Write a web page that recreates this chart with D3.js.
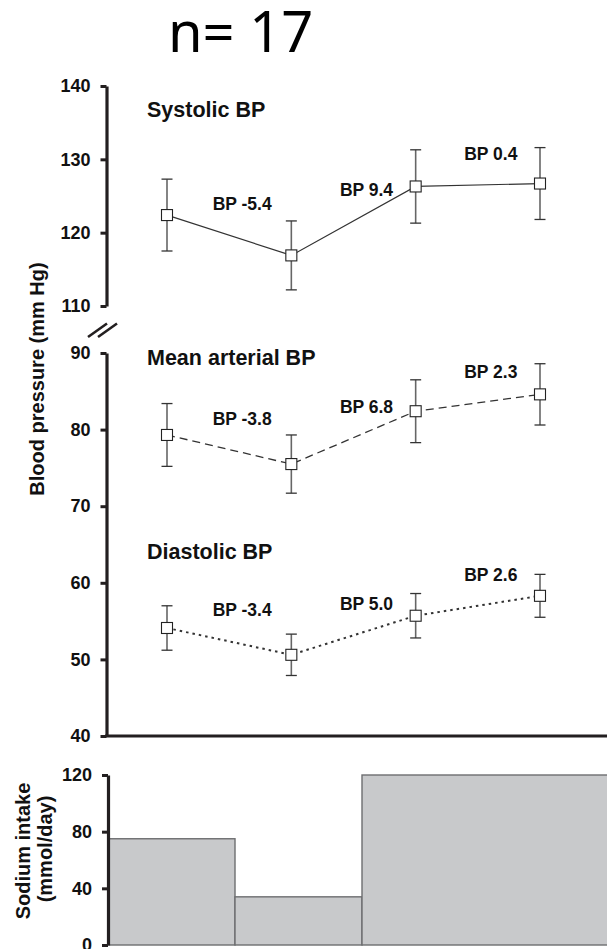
<!DOCTYPE html>
<html>
<head>
<meta charset="utf-8">
<script src="https://cdn.jsdelivr.net/npm/d3@7"></script>
<style>
  body { margin: 0; background: #fff; }
  svg text { font-family: "Liberation Sans", Arial, sans-serif; font-weight: bold; fill: #111; }
</style>
</head>
<body>
<svg width="607" height="949"></svg>
<script>
var svg = d3.select("svg"),
    width = +svg.attr("width"),
    height = +svg.attr("height");

// time points (x positions of the four measurements)
var periods = ["P1", "P2", "P3", "P4"];

// blood pressure means and error
var systolic      = [122.4, 116.9, 126.3, 126.7];
var systolicErr   = [4.9, 4.7, 5.0, 4.9];
var meanArterial  = [79.3, 75.5, 82.4, 84.6];
var meanArtErr    = [4.1, 3.8, 4.1, 4.0];
var diastolic     = [54.1, 50.6, 55.7, 58.3];
var diastolicErr  = [2.9, 2.7, 2.9, 2.8];

// change labels between consecutive points
var systolicLabels  = ["BP -5.4", "BP 9.4", "BP 0.4"];
var meanArtLabels   = ["BP -3.8", "BP 6.8", "BP 2.3"];
var diastolicLabels = ["BP -3.4", "BP 5.0", "BP 2.6"];

// sodium intake per diet phase (start period, end period, mmol/day)
var sodiumStart = [0, 1, 2];
var sodiumEnd   = [1, 2, 4];
var sodiumValue = [75, 34, 120];

var topTicks = [110, 120, 130, 140];
var bottomTicks = [40, 50, 60, 70, 80, 90];
var sodiumTicks = [0, 40, 80, 120];

var axisX = 106.5;

var x = d3.scalePoint().domain(periods).range([167, 540]);
var yTop = d3.scaleLinear().domain([110, 140]).range([306, 86]);
var yBot = d3.scaleLinear().domain([40, 90]).range([736, 353]);
var xSod = d3.scaleLinear().domain([0, 4]).range([108, 616]);
var ySod = d3.scaleLinear().domain([0, 120]).range([945, 775]);

// title
svg.append("text")
    .attr("x", 168)
    .attr("y", 52)
    .style("font-family", "'Noto Sans', 'Open Sans', sans-serif")
    .style("font-weight", "normal")
    .style("font-size", "56px")
    .style("fill", "#000")
    .text("n= 17");

function styleAxis(g) {
  g.select(".domain").attr("stroke", "#231f20").attr("stroke-width", 3.2);
  g.selectAll(".tick line").attr("stroke", "#231f20").attr("stroke-width", 3);
  g.selectAll(".tick text")
      .style("font-family", "'Liberation Sans', Arial, sans-serif")
      .style("font-weight", "bold")
      .style("font-size", "18px")
      .attr("fill", "#111");
}

svg.append("g")
    .attr("transform", "translate(" + axisX + ",0)")
    .call(d3.axisLeft(yTop).tickValues(topTicks).tickSize(6).tickSizeOuter(0).tickPadding(10))
    .call(styleAxis);

svg.append("g")
    .attr("transform", "translate(" + axisX + ",0)")
    .call(d3.axisLeft(yBot).tickValues(bottomTicks).tickSize(6).tickSizeOuter(0).tickPadding(10))
    .call(styleAxis);

// horizontal baseline of the BP panel
svg.append("line")
    .attr("x1", axisX - 1.5).attr("x2", width)
    .attr("y1", yBot(40)).attr("y2", yBot(40))
    .attr("stroke", "#231f20").attr("stroke-width", 3.2);

// axis break marks
[0, 10].forEach(function(dx) {
  svg.append("line")
      .attr("x1", 88 + dx).attr("y1", 337)
      .attr("x2", 107 + dx).attr("y2", 323.5)
      .attr("stroke", "#231f20").attr("stroke-width", 2.6);
});

// y label
svg.append("text")
    .attr("transform", "translate(44,379) rotate(-90)")
    .attr("text-anchor", "middle")
    .style("font-size", "20px")
    .text("Blood pressure (mm Hg)");

// panel titles
svg.append("text").attr("x", 147).attr("y", 117).style("font-size", "21.5px").text("Systolic BP");
svg.append("text").attr("x", 147).attr("y", 365).style("font-size", "21.5px").text("Mean arterial BP");
svg.append("text").attr("x", 147).attr("y", 559).style("font-size", "21.5px").text("Diastolic BP");

function drawSeries(values, errs, labels, y, dash, lineWidth) {
  var pts = values.map(function(v, i) { return { p: periods[i], v: v, e: errs[i] }; });
  var g = svg.append("g");

  var line = d3.line()
      .x(function(d) { return x(d.p); })
      .y(function(d) { return y(d.v); });

  g.append("path")
      .datum(pts)
      .attr("d", line)
      .attr("fill", "none")
      .attr("stroke", "#333")
      .attr("stroke-width", lineWidth)
      .attr("stroke-dasharray", dash);

  var eb = g.selectAll(".err").data(pts).enter().append("g").attr("class", "err");
  eb.append("line")
      .attr("x1", function(d) { return x(d.p); })
      .attr("x2", function(d) { return x(d.p); })
      .attr("y1", function(d) { return y(d.v + d.e); })
      .attr("y2", function(d) { return y(d.v - d.e); })
      .attr("stroke", "#666").attr("stroke-width", 1.6);
  [1, -1].forEach(function(s) {
    eb.append("line")
        .attr("x1", function(d) { return x(d.p) - 5.5; })
        .attr("x2", function(d) { return x(d.p) + 5.5; })
        .attr("y1", function(d) { return y(d.v + s * d.e); })
        .attr("y2", function(d) { return y(d.v + s * d.e); })
        .attr("stroke", "#333").attr("stroke-width", 1.3);
  });

  g.selectAll("rect").data(pts).enter().append("rect")
      .attr("x", function(d) { return x(d.p) - 5.5; })
      .attr("y", function(d) { return y(d.v) - 5.5; })
      .attr("width", 11).attr("height", 11)
      .attr("fill", "#fff")
      .attr("stroke", "#222").attr("stroke-width", 1.1);

  g.selectAll(".lbl").data(labels).enter().append("text")
      .attr("class", "lbl")
      .attr("text-anchor", "middle")
      .attr("x", function(d, i) { return (x(periods[i]) + x(periods[i + 1])) / 2 + 13; })
      .attr("y", function(d, i) { return (y(values[i]) + y(values[i + 1])) / 2 - 25; })
      .style("font-size", "17.5px")
      .text(function(d) { return d; });
}

drawSeries(systolic, systolicErr, systolicLabels, yTop, null, 1.2);
drawSeries(meanArterial, meanArtErr, meanArtLabels, yBot, "8,5", 1.3);
drawSeries(diastolic, diastolicErr, diastolicLabels, yBot, "2.5,4", 2);

// sodium intake panel
var sod = sodiumValue.map(function(v, i) { return { s: sodiumStart[i], e: sodiumEnd[i], v: v }; });
svg.append("g").selectAll("rect").data(sod).enter().append("rect")
    .attr("x", function(d) { return xSod(d.s); })
    .attr("y", function(d) { return ySod(d.v); })
    .attr("width", function(d) { return xSod(d.e) - xSod(d.s); })
    .attr("height", function(d) { return ySod(0) - ySod(d.v); })
    .attr("fill", "#c8c9cb")
    .attr("stroke", "#6d6e70")
    .attr("stroke-width", 1.4);

svg.append("g")
    .attr("transform", "translate(108,0)")
    .call(d3.axisLeft(ySod).tickValues(sodiumTicks).tickSize(6).tickSizeOuter(0).tickPadding(10))
    .call(styleAxis);

svg.append("text")
    .attr("transform", "translate(30,851) rotate(-90)")
    .attr("text-anchor", "middle")
    .style("font-size", "20px")
    .text("Sodium intake");
svg.append("text")
    .attr("transform", "translate(52,849) rotate(-90)")
    .attr("text-anchor", "middle")
    .style("font-size", "20px")
    .text("(mmol/day)");
</script>
</body>
</html>
